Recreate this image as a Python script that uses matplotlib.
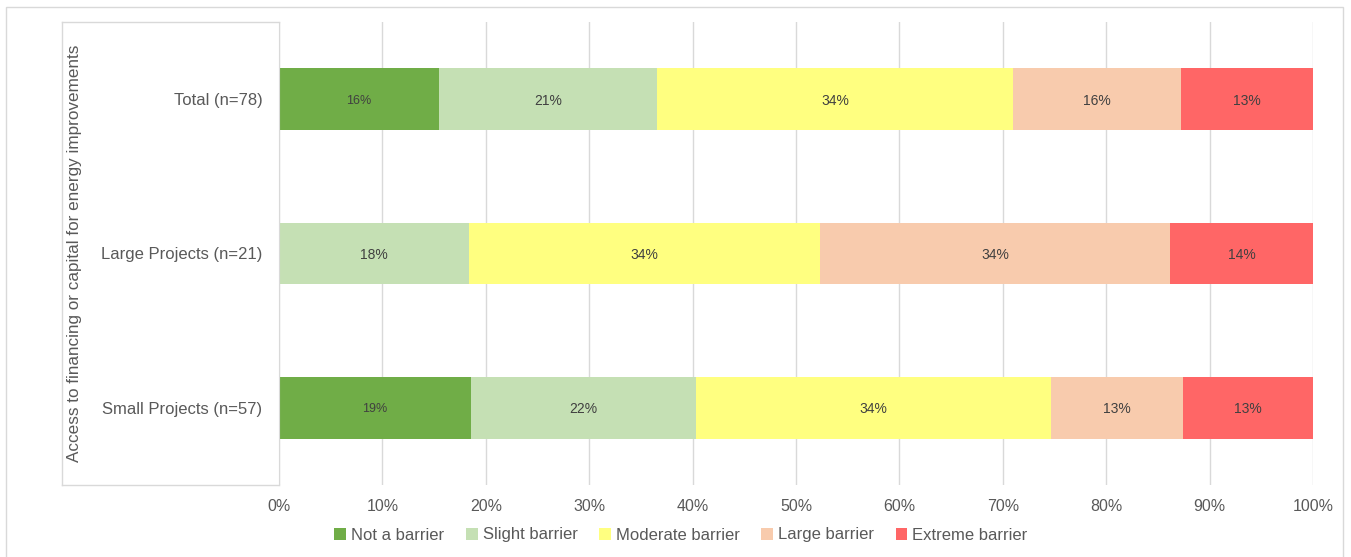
import matplotlib
import matplotlib.pyplot as plt
from matplotlib.lines import Line2D
from matplotlib.patches import Rectangle
matplotlib.use('Agg')

plt.rcParams['font.family'] = ['Liberation Sans', 'DejaVu Sans']

# survey shares (%) per project group, stacked left to right
groups = ['Total (n=78)', 'Large Projects (n=21)', 'Small Projects (n=57)']
levels = ['Not a barrier', 'Slight barrier', 'Moderate barrier', 'Large barrier', 'Extreme barrier']
not_a_barrier = [15.5, 0.0, 18.6]
slight_barrier = [21.1, 18.4, 21.7]
moderate_barrier = [34.4, 33.9, 34.4]
large_barrier = [16.2, 33.9, 12.7]
extreme_barrier = [12.8, 13.8, 12.6]
x_ticks = [0, 10, 20, 30, 40, 50, 60, 70, 80, 90, 100]
y_title = 'Access to financing or capital for energy improvements'

colors = ['#70AD47', '#C5E0B4', '#FFFF80', '#F8CBAD', '#FF6666']
series = [not_a_barrier, slight_barrier, moderate_barrier, large_barrier, extreme_barrier]
text_gray = '#595959'
line_gray = '#D9D9D9'

fig = plt.figure(figsize=(13.51, 5.57), dpi=100)
W, H = 1351, 557
ax = fig.add_axes([279 / W, 1 - 485 / H, (1313 - 279) / W, (485 - 22) / H])

ypos = list(range(len(groups)))
left = [0.0] * len(groups)
for name, vals, col in zip(levels, series, colors):
    bars = ax.barh(ypos, vals, left=left, height=0.4, color=col, label=name, zorder=2)
    for rect, v in zip(bars, vals):
        if v <= 0:
            continue
        # the dark green segment uses a smaller label font
        size = 9 if col == '#70AD47' else 10
        ax.text(rect.get_x() + rect.get_width() / 2, rect.get_y() + rect.get_height() / 2 + 0.01,
                f'{round(v):.0f}%', ha='center', va='center', fontsize=size,
                color='#404040', zorder=3)
    left = [l + v for l, v in zip(left, vals)]

ax.set_xlim(0, 100)
ax.set_ylim(2.5, -0.5)
ax.set_xticks(x_ticks)
ax.set_xticklabels([f'{t}%' for t in x_ticks], fontsize=11.5, color=text_gray)
ax.set_yticks(ypos)
ax.set_yticklabels(groups, fontsize=12, color=text_gray)
ax.tick_params(axis='both', length=0)
ax.tick_params(axis='x', pad=10)
ax.tick_params(axis='y', pad=12)
ax.grid(axis='x', color=line_gray, linewidth=1, zorder=0)
for s in ['top', 'right', 'bottom']:
    ax.spines[s].set_visible(False)
ax.spines['left'].set_color(line_gray)

# box around the category labels
for xs, ys in [((62 / W, 279 / W), (1 - 22 / H, 1 - 22 / H)),
               ((62 / W, 279 / W), (1 - 485 / H, 1 - 485 / H)),
               ((62 / W, 62 / W), (1 - 22 / H, 1 - 485 / H))]:
    fig.add_artist(Line2D(xs, ys, color=line_gray, linewidth=1))

# outer chart border
fig.add_artist(Rectangle((6 / W, -0.01), 1337 / W, 1 - 7 / H + 0.01, fill=False,
                         edgecolor=line_gray, linewidth=1))

fig.text(75 / W, 1 - 253 / H, y_title, rotation=90, ha='center', va='center',
         fontsize=12.3, color=text_gray)

leg = fig.legend(loc='center', bbox_to_anchor=(681 / W, 1 - 535 / H), ncol=5, frameon=False,
                 fontsize=12, handlelength=0.7, handleheight=0.7, handletextpad=0.3,
                 columnspacing=1.3, labelcolor=text_gray)

fig.savefig('out.png', dpi=100, facecolor='white')
